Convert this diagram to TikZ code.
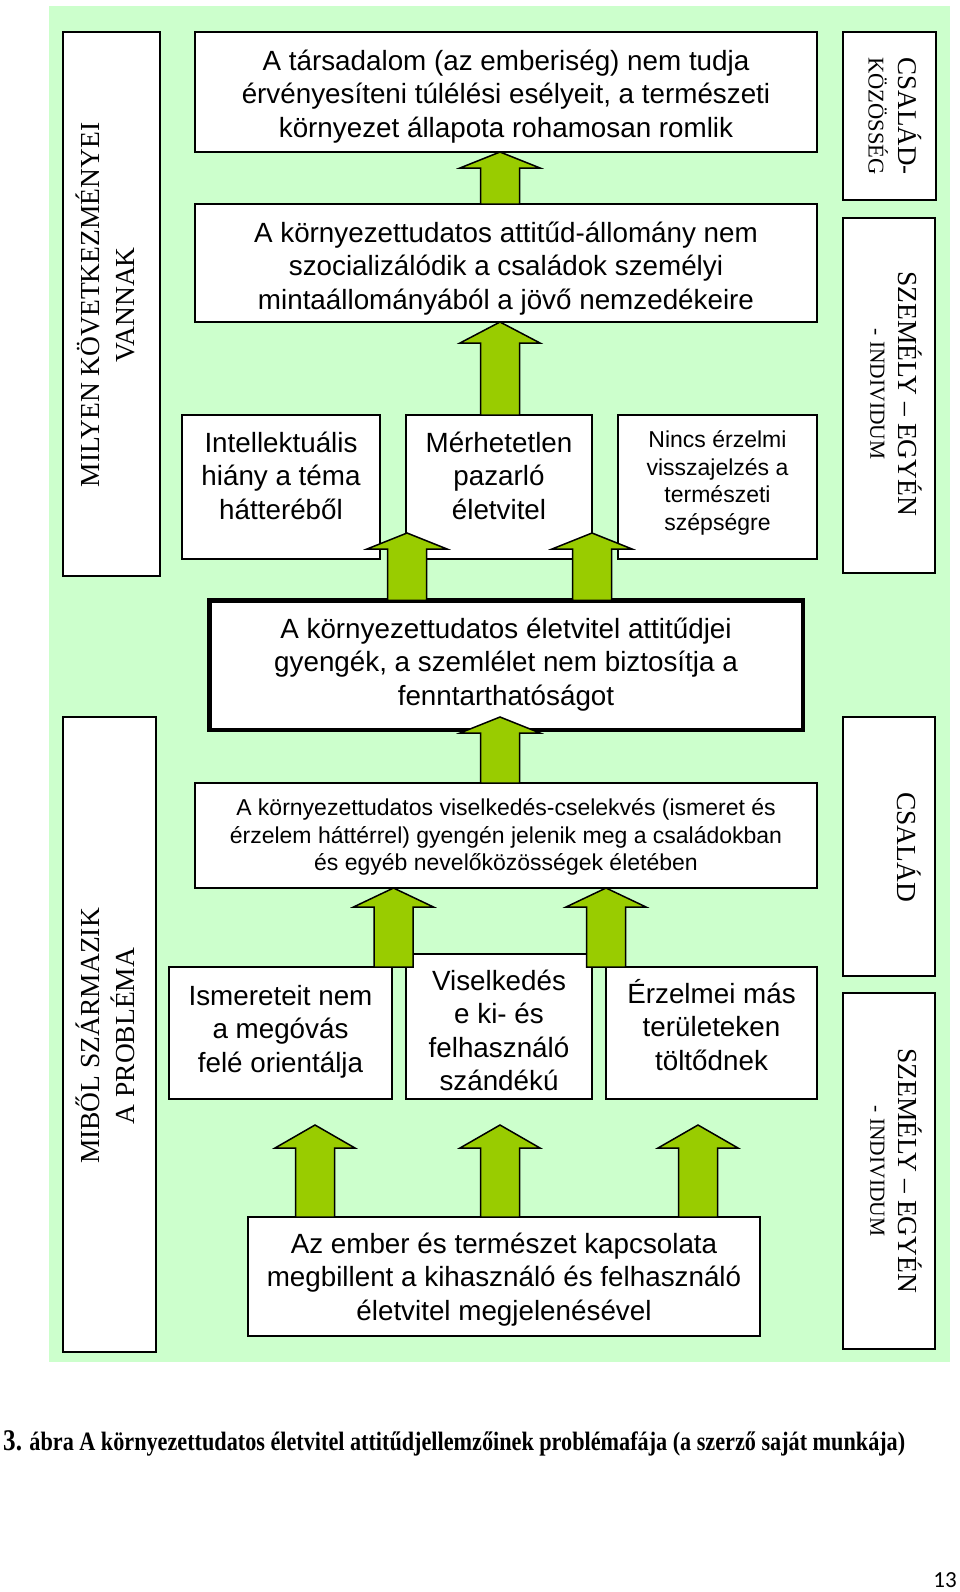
\documentclass[tikz,border=0pt]{standalone}
\usepackage{fontspec}
\usepackage{graphicx}
\setmainfont{Liberation Sans}
\newfontfamily\tnr{Liberation Serif}
\newfontfamily\calfont{Carlito}
\usetikzlibrary{calc}
\definecolor{bggreen}{HTML}{CCFFCC}
\definecolor{arrgreen}{HTML}{99CC00}
\newcommand\fsz[2]{\fontsize{#1pt}{#2pt}\selectfont}
\newcommand\hs{\rule{0pt}{26pt}}
\newcommand\ls{\rule{0pt}{22pt}}
\tikzset{
  box/.style={draw=black, fill=white, line width=1.5pt, inner sep=0pt, outer sep=0pt},
  thickbox/.style={box, line width=4.5pt},
  bigtxt/.style={inner sep=0pt, align=center, anchor=north, font=\fsz{27.8}{33.5}},
  smalltxt/.style={inner sep=0pt, align=center, anchor=north, font=\fsz{23}{27.8}},
  sidelbl/.style={inner sep=0pt, align=center},
  blockarrow/.style={fill=arrgreen, draw=black, line width=1.5pt, line join=miter},
}
\newcommand\barrow[3]{%
  \draw[blockarrow] let \p1=(#1), \p2=(#2) in
   (\x1,\y1) -- ({\x1+40pt},{\y1-#3pt}) -- ({\x1+19.5pt},{\y1-#3pt})
   -- ({\x1+19.5pt},\y2) -- ({\x1-19.5pt},\y2) -- ({\x1-19.5pt},{\y1-#3pt})
   -- ({\x1-40pt},{\y1-#3pt}) -- cycle;}
\begin{document}
\begin{tikzpicture}[x=1pt, y=-1pt]
\useasboundingbox (0,0) rectangle (960,1592);
\fill[bggreen] (49,6) rectangle (950,1362);

% side boxes
\node[box, minimum width=97pt, minimum height=544pt] (L1) at (111.5,304) {};
\node[sidelbl, rotate=90, font=\tnr\fsz{27.5}{35}] (L1t) at (105,305) {MILYEN KÖVETKEZMÉNYEI\\VANNAK};
\node[box, minimum width=93pt, minimum height=635pt] (L2) at (109.5,1034.5) {};
\node[sidelbl, rotate=90, font=\tnr\fsz{27.5}{35}] (L2t) at (105.5,1036) {MIBŐL SZÁRMAZIK\\A PROBLÉMA};
\node[box, minimum width=93pt, minimum height=168pt] (R1) at (889.5,116) {};
\node[sidelbl, rotate=-90, font=\tnr\fsz{27}{30}] (R1t) at (895,116) {CSALÁD-\\{\fsz{22.5}{30}KÖZÖSSÉG}};
\node[box, minimum width=92pt, minimum height=355pt] (R2) at (889,395.5) {};
\node[sidelbl, rotate=-90, font=\tnr\fsz{27.5}{28}] (R2t) at (896,394) {SZEMÉLY – EGYÉN\\{\fsz{21.5}{28}- INDIVIDUM}};
\node[box, minimum width=92pt, minimum height=259pt] (R3) at (889,846.5) {};
\node[sidelbl, rotate=-90, font=\tnr\fsz{27.5}{30}] (R3t) at (909,847) {CSALÁD};
\node[box, minimum width=92pt, minimum height=356pt] (R4) at (889,1171) {};
\node[sidelbl, rotate=-90, font=\tnr\fsz{27.5}{28}] (R4t) at (896,1171) {SZEMÉLY – EGYÉN\\{\fsz{21.5}{28}- INDIVIDUM}};

% main boxes
\node[box, minimum width=622pt, minimum height=120pt] (b1) at (506,92) {};
\node[bigtxt] (b1t) at ([yshift=-12pt]b1.north) {\hs A társadalom (az emberiség) nem tudja\\érvényesíteni túlélési esélyeit, a természeti\\környezet állapota rohamosan romlik};
\node[box, minimum width=622pt, minimum height=118pt] (b2) at (506,263) {};
\node[bigtxt] (b2t) at ([yshift=-12pt]b2.north) {\hs A környezettudatos attitűd-állomány nem\\szocializálódik a családok személyi\\mintaállományából a jövő nemzedékeire};
\node[box, minimum width=198pt, minimum height=144pt] (bInt) at (281,487) {};
\node[bigtxt] (bIntt) at ([yshift=-11pt]bInt.north) {\hs Intellektuális\\hiány a téma\\hátteréből};
\node[box, minimum width=186pt, minimum height=144pt] (bMer) at (499,487) {};
\node[bigtxt] (bMert) at ([yshift=-11pt]bMer.north) {\hs Mérhetetlen\\pazarló\\életvitel};
\node[box, minimum width=199pt, minimum height=144pt] (bNin) at (717.5,487) {};
\node[smalltxt] (bNint) at ([yshift=-10pt]bNin.north) {\ls Nincs érzelmi\\visszajelzés a\\természeti\\szépségre};
\node[thickbox, minimum width=593.5pt, minimum height=129.5pt] (bTh) at (506,665) {};
\node[bigtxt] (bTht) at ([yshift=-11.75pt]bTh.north) {\hs A környezettudatos életvitel attitűdjei\\gyengék, a szemlélet nem biztosítja a\\fenntarthatóságot};
\node[box, minimum width=622pt, minimum height=105pt] (bVis) at (506,835.5) {};
\node[smalltxt] (bVist) at ([yshift=-10pt]bVis.north) {\ls A környezettudatos viselkedés-cselekvés (ismeret és\\érzelem háttérrel) gyengén jelenik meg a családokban\\és egyéb nevelőközösségek életében};
\node[box, minimum width=223pt, minimum height=132pt] (bIsm) at (280.5,1033) {};
\node[bigtxt] (bIsmt) at ([yshift=-12pt]bIsm.north) {\hs Ismereteit nem\\a megóvás\\felé orientálja};
\node[box, minimum width=186pt, minimum height=145pt] (bVsk) at (499,1026.5) {};
\node[bigtxt] (bVskt) at ([yshift=-10pt]bVsk.north) {\hs Viselkedés\\e ki- és\\felhasználó\\szándékú};
\node[box, minimum width=211pt, minimum height=132pt] (bErz) at (711.5,1033) {};
\node[bigtxt] (bErzt) at ([yshift=-10pt]bErz.north) {\hs Érzelmei más\\területeken\\töltődnek};
\node[box, minimum width=512pt, minimum height=119pt] (bAz) at (504,1276.5) {};
\node[bigtxt] (bAzt) at ([yshift=-10pt]bAz.north) {\hs Az ember és természet kapcsolata\\megbillent a kihasználó és felhasználó\\életvitel megjelenésével};

% arrow tips that do not sit on a box edge
\coordinate (t3) at (407,533);
\coordinate (t4) at (592,533);
\coordinate (t5) at (500,717);
\coordinate (t8) at (315,1125);
\coordinate (t9) at (500,1125);
\coordinate (t10) at (698,1125);

% block arrows
\barrow{500,0 |- b1.south}{500,0 |- b2.north}{16}
\barrow{500,0 |- b2.south}{500,0 |- bMer.north}{21}
\barrow{t3}{407,0 |- bTh.north}{16}
\barrow{t4}{592,0 |- bTh.north}{16}
\barrow{t5}{500,0 |- bVis.north}{16}
\barrow{393.5,0 |- bVis.south}{393.5,0 |- bIsm.north}{19}
\barrow{606,0 |- bVis.south}{606,0 |- bErz.north}{19}
\barrow{t8}{315,0 |- bAz.north}{23}
\barrow{t9}{500,0 |- bAz.north}{23}
\barrow{t10}{698,0 |- bAz.north}{23}

% caption and page number
\node[anchor=base west, inner sep=0pt] (cap) at (3,1450) {\resizebox{902pt}{\height}{\tnr\bfseries\fsz{26.5}{30}{\fsz{30}{30}3.} ábra A környezettudatos életvitel attitűdjellemzőinek problémafája (a szerző saját munkája)}};
\node[anchor=base east, inner sep=0pt, font=\calfont\fsz{23}{26}] (pg) at (957,1587) {13};
\end{tikzpicture}
\end{document}
